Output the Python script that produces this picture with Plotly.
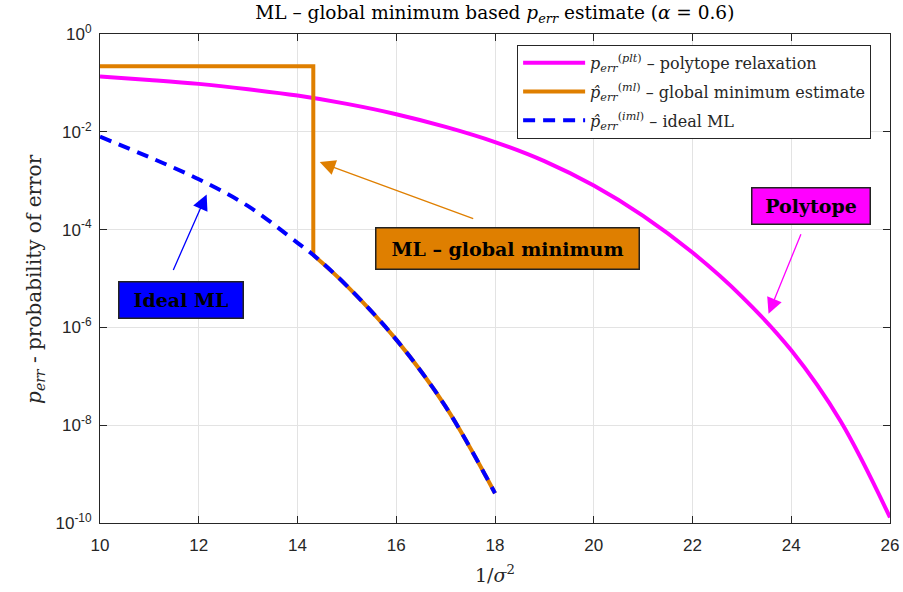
import plotly.graph_objects as go

# ---------------- data ----------------
x_plt = [10, 11, 12, 13, 14, 15, 16, 17, 18, 19, 20, 21, 22, 23, 24, 25, 26]
y_plt = [1.35e-1, 1.15e-1, 9.55e-2, 7.41e-2, 5.50e-2, 3.72e-2, 2.29e-2, 1.26e-2,
         6.17e-3, 2.51e-3, 7.94e-4, 1.91e-4, 3.39e-5, 4.27e-6, 3.39e-7, 1.20e-8, 1.30e-10]

x_iml = [10, 11, 12, 13, 14, 14.32, 15, 16, 17, 18]
y_iml = [7.94e-3, 3.02e-3, 1.07e-3, 3.02e-4, 5.37e-5, 3.02e-5, 7.08e-6, 5.62e-7, 2.40e-8, 4.07e-10]

x_ml_step = [10, 14.32, 14.32]
y_ml_step = [0.22, 0.22, 3.02e-5]
x_ml_tail = [14.32, 15, 16, 17, 18]
y_ml_tail = [3.02e-5, 7.08e-6, 5.62e-7, 2.40e-8, 4.07e-10]

x_ticks = [10, 12, 14, 16, 18, 20, 22, 24, 26]
y_ticks = [1, 1e-2, 1e-4, 1e-6, 1e-8, 1e-10]
y_ticktext = ["10<sup>0</sup>", "10<sup>-2</sup>", "10<sup>-4</sup>",
              "10<sup>-6</sup>", "10<sup>-8</sup>", "10<sup>-10</sup>"]

name_plt = "<i>p</i><sub><i>err</i></sub><sup>(<i>plt</i>)</sup> – polytope relaxation"
name_ml = "<i>p\u0302</i><sub><i>err</i></sub><sup>(<i>ml</i>)</sup> – global minimum estimate"
name_iml = "<i>p\u0302</i><sub><i>err</i></sub><sup>(<i>iml</i>)</sup> – ideal ML"

MAGENTA = "#FF00FF"
ORANGE = "#DF7F00"
BLUE = "#0000FF"
SERIF = "DejaVu Serif"
SANS = "Liberation Sans, Arial, sans-serif"

fig = go.Figure()
fig.add_trace(go.Scatter(x=x_plt, y=y_plt, mode="lines", name=name_plt, legendgroup="g1",
                         line=dict(color=MAGENTA, width=4, shape="spline", smoothing=1.0)))
fig.add_trace(go.Scatter(x=x_ml_step, y=y_ml_step, mode="lines", name=name_ml, legendgroup="g2",
                         line=dict(color=ORANGE, width=4)))
fig.add_trace(go.Scatter(x=x_ml_tail, y=y_ml_tail, mode="lines", showlegend=False, legendgroup="g2",
                         line=dict(color=ORANGE, width=4, shape="spline", smoothing=1.0)))
fig.add_trace(go.Scatter(x=x_iml, y=y_iml, mode="lines", name=name_iml, legendgroup="g3",
                         line=dict(color=BLUE, width=4, dash="12px,8px",
                                   shape="spline", smoothing=1.0)))

axis_common = dict(showline=True, linecolor="#262626", linewidth=1, mirror="ticks",
                   ticks="inside", ticklen=7, tickcolor="#262626",
                   showgrid=True, gridcolor="#e3e3e3", gridwidth=1, zeroline=False,
                   automargin=False,
                   tickfont=dict(family=SANS, size=17, color="#262626"))

fig.update_xaxes(range=[10, 26], tickvals=x_ticks, ticklabelstandoff=7, **axis_common)
fig.update_yaxes(type="log", range=[-10, 0], tickvals=y_ticks, ticktext=y_ticktext,
                 ticklabelstandoff=4, **axis_common)

annotations = [
    # axis titles
    dict(text="1/<i>σ</i><sup>2</sup>", xref="paper", yref="paper", x=0.5, y=-0.075,
         xanchor="center", yanchor="top", showarrow=False,
         font=dict(family=SERIF, size=19, color="#262626")),
    dict(text="<i>p</i><sub><i>err</i></sub> - probability of error", xref="paper", yref="paper",
         x=-0.083, y=0.5, xanchor="center", yanchor="middle", textangle=-90, showarrow=False,
         font=dict(family=SERIF, size=20, color="#262626")),
    # text boxes
    dict(text="<b>Polytope</b>", xref="x", yref="y", x=24.39, y=-3.51, showarrow=False,
         xanchor="center", yanchor="middle", width=115, height=33, borderpad=1,
         bgcolor=MAGENTA, bordercolor="#222222", borderwidth=1.5,
         font=dict(family=SERIF, size=19, color="black")),
    dict(text="<b>ML – global minimum</b>", xref="x", yref="y", x=18.25, y=-4.38, showarrow=False,
         xanchor="center", yanchor="middle", width=260, height=38, borderpad=1,
         bgcolor=ORANGE, bordercolor="#222222", borderwidth=1.5,
         font=dict(family=SERIF, size=19, color="black")),
    dict(text="<b>Ideal ML</b>", xref="x", yref="y", x=11.64, y=-5.44, showarrow=False,
         xanchor="center", yanchor="middle", width=121, height=33, borderpad=1,
         bgcolor=BLUE, bordercolor="#222222", borderwidth=1.5,
         font=dict(family=SERIF, size=19, color="black")),
    # arrows
    dict(text="", xref="x", yref="y", x=23.54, y=-5.72, ax=33, ay=-81, showarrow=True,
         arrowhead=2, arrowsize=2.4, arrowwidth=1.3, arrowcolor=MAGENTA, standoff=0),
    dict(text="", xref="x", yref="y", x=14.45, y=-2.62, ax=155, ay=57, showarrow=True,
         arrowhead=2, arrowsize=2.4, arrowwidth=1.3, arrowcolor=ORANGE, standoff=0),
    dict(text="", xref="x", yref="y", x=12.16, y=-3.28, ax=-34, ay=77, showarrow=True,
         arrowhead=2, arrowsize=2.4, arrowwidth=1.3, arrowcolor=BLUE, standoff=0),
]

fig.update_layout(
    width=903, height=592,
    margin=dict(l=100, r=13, t=34, b=69),
    paper_bgcolor="white", plot_bgcolor="white",
    title=dict(text="ML – global minimum based <i>p</i><sub><i>err</i></sub> estimate (<i>α</i> = 0.6)",
               x=0.548, xref="container", xanchor="center",
               y=0.978, yref="container", yanchor="middle",
               font=dict(family=SERIF, size=18.5, color="black")),
    legend=dict(x=0.528, y=0.978, xanchor="left", yanchor="top",
                bgcolor="white", bordercolor="#262626", borderwidth=1,
                font=dict(family=SERIF, size=16, color="#262626"),
                itemwidth=62, tracegroupgap=5),
    annotations=annotations,
    showlegend=True,
)

fig.write_html("out.html", config={"displayModeBar": False},
               post_script="document.body.style.margin='0px';")
